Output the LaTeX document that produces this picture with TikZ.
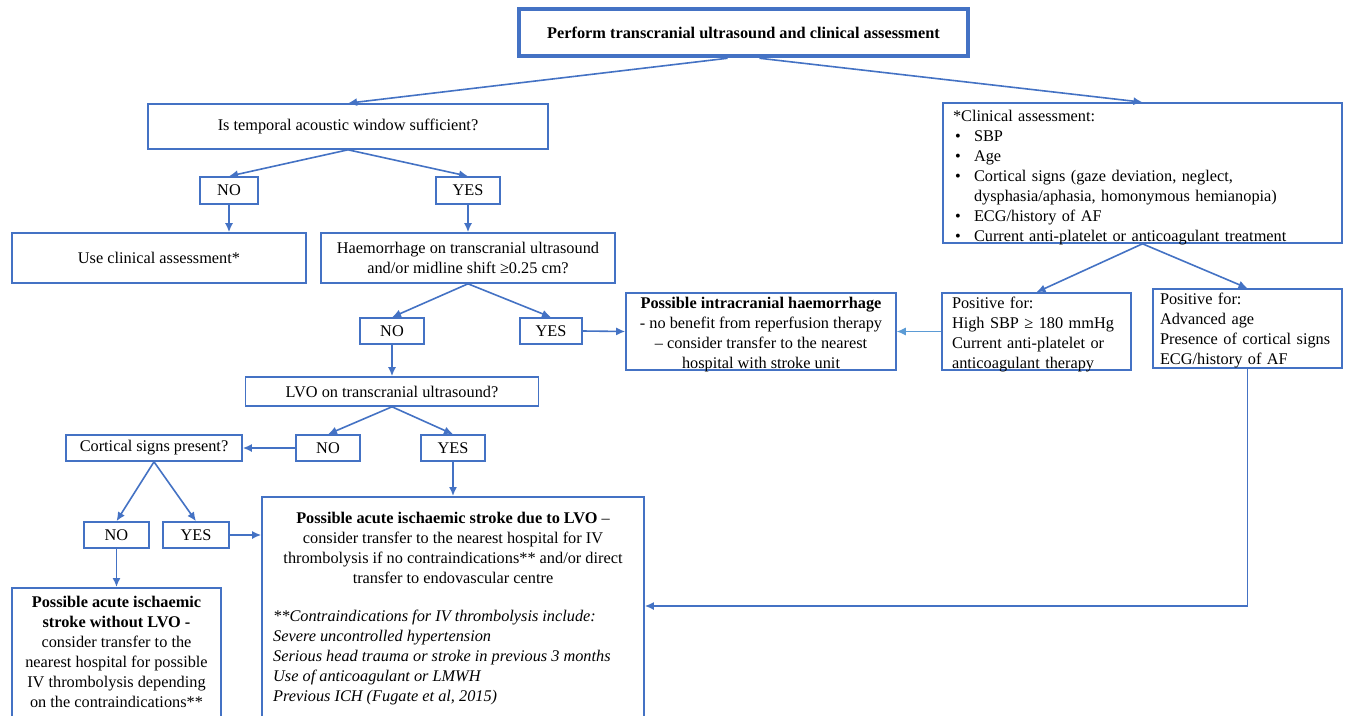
\documentclass[tikz,border=0pt]{standalone}
\usepackage{fontspec}
\setmainfont{Liberation Serif}
\usetikzlibrary{calc,arrows.meta}
\definecolor{flowblue}{RGB}{68,114,196}
\definecolor{flowlight}{RGB}{91,155,213}
\newcommand\clinbullet{\makebox[21pt][l]{\hspace{2pt}•}}
\newcommand\padtop[1]{\rule{0pt}{#1}}
\newcommand\nodepth[1]{\raisebox{0pt}[\height][0pt]{#1}}
\tikzset{
  box/.style={draw=flowblue,line width=1.6pt,inner sep=0pt,align=center,font=\fontsize{16.3}{20}\selectfont},
  leftbox/.style={box,align=left,inner xsep=9pt,inner ysep=1pt},
  txt/.style={inner sep=0pt,font=\fontsize{16.3}{20}\selectfont},
  flow/.style={->,draw=flowblue,line width=1.6pt}
}
\begin{document}
\begin{tikzpicture}[x=1pt,y=-1pt,>={Latex[length=9pt,width=8pt]}]
        \useasboundingbox (0,0) rectangle (1349,715);
        \fill[white] (0,0) rectangle (1349,715);
        \clip (0,0) rectangle (1349,715);
        \node[box,line width=4.5pt,minimum width=449pt,minimum height=47pt,font=\bfseries\fontsize{16.3}{20}\selectfont] (top) at (743.5,32.5) {Perform transcranial ultrasound and clinical assessment};
        \node[box,minimum width=400pt,minimum height=45pt] (temporal) at (348,126.5) {Is temporal acoustic window sufficient?};
        \node[box,minimum width=58pt,minimum height=27pt] (no1) at (229,190.5) {NO};
        \node[box,minimum width=64pt,minimum height=27pt] (yes1) at (468,190.5) {YES};
        \node[box,minimum width=294pt,minimum height=50pt] (useclin) at (159,258) {Use clinical assessment*};
        \node[box,minimum width=294pt,minimum height=50pt] (haem) at (468,258) {Haemorrhage on transcranial ultrasound\\and/or midline shift ≥0.25 cm?};
        \node[box,minimum width=64pt,minimum height=26pt] (no2) at (392,331) {NO};
        \node[box,minimum width=62pt,minimum height=26pt] (yes2) at (551,331) {YES};
        \node[box,minimum width=270pt,minimum height=77pt] (ich) at (761,331.5) {\padtop{13pt}\textbf{Possible intracranial haemorrhage}\\- no benefit from reperfusion therapy\\– consider transfer to the nearest\\\nodepth{hospital with stroke unit}};
        \node[leftbox,inner xsep=10pt,text width=169pt,minimum height=77pt] (sbp) at (1036.5,331.5) {\padtop{13pt}Positive for:\\High SBP ≥ 180 mmHg\\Current anti-platelet or\\\nodepth{anticoagulant therapy}};
        \node[leftbox,inner xsep=7pt,text width=175pt,minimum height=79pt] (age) at (1247.5,328.5) {\padtop{12pt}Positive for:\\Advanced age\\Presence of cortical signs\\\nodepth{ECG/history of AF}};
        \node[leftbox,inner xsep=10pt,text width=379pt,minimum height=140pt] (clin) at (1142.5,173) {\padtop{17pt}*Clinical assessment:\\\clinbullet SBP\\\clinbullet Age\\\clinbullet Cortical signs (gaze deviation, neglect,\\\hspace*{21pt}dysphasia/aphasia, homonymous hemianopia)\\\clinbullet ECG/history of AF\\\clinbullet \nodepth{Current anti-platelet or anticoagulant treatment}};
        \node[box,minimum width=293pt,minimum height=29pt] (lvo) at (392,391.5) {LVO on transcranial ultrasound?};
        \node[box,minimum width=176pt,minimum height=26pt] (cortical) at (154,448) {Cortical signs present?};
        \node[box,minimum width=64pt,minimum height=26pt] (no3) at (328,448) {NO};
        \node[box,minimum width=64pt,minimum height=26pt] (yes3) at (453,448) {YES};
        \node[box,minimum width=65pt,minimum height=26pt] (no4) at (116.5,535) {NO};
        \node[box,minimum width=66pt,minimum height=26pt] (yes4) at (196,535) {YES};
        \node[box,anchor=north,minimum width=382pt,minimum height=260pt] (lvobig) at (453,496) {};
        \node[box,anchor=north,minimum width=209pt,minimum height=160pt] (nolvo) at (116.5,587) {};
        \node[txt,anchor=north,align=center] (lvotxt) at (453,512) {\textbf{Possible acute ischaemic stroke due to LVO} –\\consider transfer to the nearest hospital for IV\\thrombolysis if no contraindications** and/or direct\\transfer to endovascular centre};
        \node[txt,anchor=north west,align=left,font=\itshape\fontsize{16.3}{20}\selectfont] (ctrtxt) at (273,610) {**Contraindications for IV thrombolysis include:\\Severe uncontrolled hypertension\\Serious head trauma or stroke in previous 3 months\\Use of anticoagulant or LMWH\\Previous ICH (Fugate et al, 2015)};
        \node[txt,anchor=north,align=center] (nolvotxt) at (116.5,596) {\textbf{Possible acute ischaemic}\\\textbf{stroke without LVO -}\\consider transfer to the\\nearest hospital for possible\\IV thrombolysis depending\\on the contraindications**};
        \coordinate (turn) at (1247.5,606);
        \draw[flow] ($(top.south)+(-16,0)$) -- (temporal.north);
        \draw[flow] ($(top.south)+(16,0)$) -- (clin.north);
        \draw[flow] (temporal.south) -- (no1.north);
        \draw[flow] (temporal.south) -- (yes1.north);
        \draw[flow] (no1.south) -- (no1.south |- useclin.north);
        \draw[flow] (yes1.south) -- (haem.north);
        \draw[flow] (haem.south) -- (no2.north);
        \draw[flow] (haem.south) -- (yes2.north);
        \draw[flow] (yes2.east) -- (ich.west);
        \draw[flow] (no2.south) -- (lvo.north);
        \draw[flow,draw=flowlight,line width=1pt] (sbp.west) -- (ich.east);
        \draw[flow] (clin.south) -- (sbp.north);
        \draw[flow] (clin.south) -- (age.north);
        \draw[flow] (lvo.south) -- (no3.north);
        \draw[flow] (lvo.south) -- (yes3.north);
        \draw[flow] (no3.west) -- (cortical.east);
        \draw[flow] (yes3.south) -- (lvobig.north);
        \draw[flow] (cortical.south) -- (no4.north);
        \draw[flow] (cortical.south) -- (yes4.north);
        \draw[flow] (yes4.east) -- (yes4.east -| lvobig.west);
        \draw[flow] (no4.south) -- (nolvo.north);
        \draw[flow] (age.south) -- (turn) -- (turn -| lvobig.east);
      \end{tikzpicture}
\end{document}
